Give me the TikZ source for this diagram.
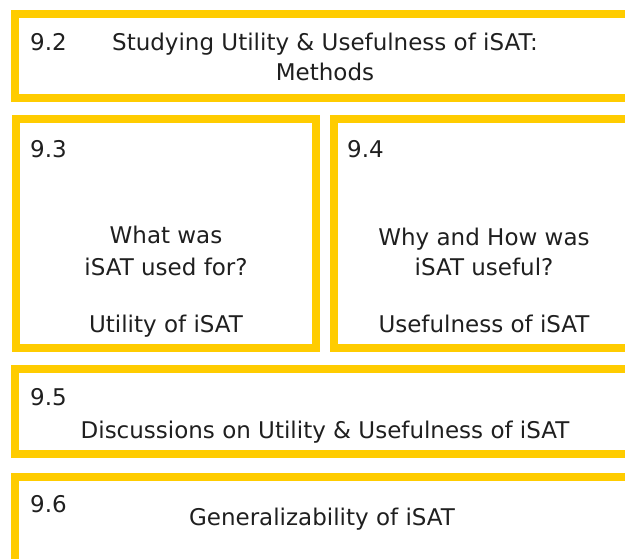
\documentclass[tikz,border=0pt]{standalone}
\usepackage{fontspec}
\setmainfont{DejaVu Sans}
\usepackage{xcolor}
\definecolor{secyellow}{HTML}{FFCC00}
\tikzset{
  secbox/.style={draw=secyellow, line width=8pt, anchor=north west, inner sep=0pt, outer sep=0pt},
  secnum/.style={anchor=base west, inner sep=0pt, font=\fontsize{23}{28}\selectfont, text=black!88},
  sectext/.style={anchor=base, inner sep=0pt, font=\fontsize{23}{28}\selectfont, text=black!88}
}

\begin{document}
\begin{tikzpicture}[x=1pt,y=-1pt]
\useasboundingbox (0,0) rectangle (625,558);
\clip (0,0) rectangle (625,558);

\node[secbox, minimum width=624pt, minimum height=84pt] (methods) at (15,14) {};
\node[secnum] (methodsnum) at (30,50) {9.2};
\node[sectext] (methodsa) at (325,50) {Studying Utility \& Usefulness of iSAT:};
\node[sectext] (methodsb) at (325,80) {Methods};

\node[secbox, minimum width=300pt, minimum height=229pt] (utility) at (16,119) {};
\node[secnum] (utilitynum) at (30,157) {9.3};
\node[sectext] (utilitya) at (166,243) {What was};
\node[sectext] (utilityb) at (166,275) {iSAT used for?};
\node[sectext] (utilityc) at (166,332) {Utility of iSAT};

\node[secbox, minimum width=306pt, minimum height=229pt] (useful) at (334,119) {};
\node[secnum] (usefulnum) at (347,157) {9.4};
\node[sectext] (usefula) at (484,245) {Why and How was};
\node[sectext] (usefulb) at (484,275) {iSAT useful?};
\node[sectext] (usefulc) at (484,332) {Usefulness of iSAT};

\node[secbox, minimum width=624pt, minimum height=85pt] (discuss) at (15,369) {};
\node[secnum] (discussnum) at (30,405) {9.5};
\node[sectext] (discussa) at (325,438) {Discussions on Utility \& Usefulness of iSAT};

\node[secbox, minimum width=624pt, minimum height=110pt] (general) at (15,477) {};
\node[secnum] (generalnum) at (30,512) {9.6};
\node[sectext] (generala) at (322,525) {Generalizability of iSAT};
\end{tikzpicture}
\end{document}
